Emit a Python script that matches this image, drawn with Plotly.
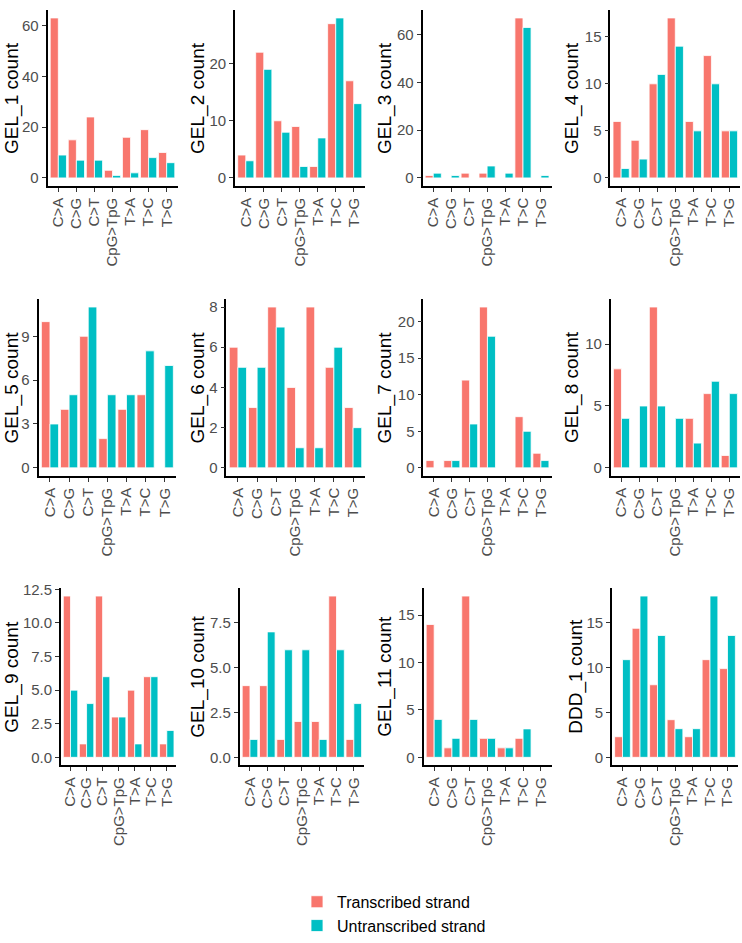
import plotly.graph_objects as go

categories = ["C>A", "C>G", "C>T", "CpG>TpG", "T>A", "T>C", "T>G"]
sample_names = ["GEL_1", "GEL_2", "GEL_3", "GEL_4", "GEL_5", "GEL_6",
                "GEL_7", "GEL_8", "GEL_9", "GEL_10", "GEL_11", "DDD_1"]

gel1_tr = [63, 15, 24, 3, 16, 19, 10]
gel1_un = [9, 7, 7, 1, 2, 8, 6]
gel2_tr = [4, 22, 10, 9, 2, 27, 17]
gel2_un = [3, 19, 8, 2, 7, 28, 13]
gel3_tr = [1, 0, 2, 2, 0, 67, 0]
gel3_un = [2, 1, 0, 5, 2, 63, 1]
gel4_tr = [6, 4, 10, 17, 6, 13, 5]
gel4_un = [1, 2, 11, 14, 5, 10, 5]
gel5_tr = [10, 4, 9, 2, 4, 5, 0]
gel5_un = [3, 5, 11, 5, 5, 8, 7]
gel6_tr = [6, 3, 8, 4, 8, 5, 3]
gel6_un = [5, 5, 7, 1, 1, 6, 2]
gel7_tr = [1, 1, 12, 22, 0, 7, 2]
gel7_un = [0, 1, 6, 18, 0, 5, 1]
gel8_tr = [8, 0, 13, 0, 4, 6, 1]
gel8_un = [4, 5, 5, 4, 2, 7, 6]
gel9_tr = [12, 1, 12, 3, 5, 6, 1]
gel9_un = [5, 4, 6, 3, 1, 6, 2]
gel10_tr = [4, 4, 1, 2, 2, 9, 1]
gel10_un = [1, 7, 6, 6, 1, 6, 3]
gel11_tr = [14, 1, 17, 2, 1, 2, 0]
gel11_un = [4, 2, 4, 2, 1, 3, 0]
ddd1_tr = [2.3, 14.4, 8.1, 4.2, 2.3, 10.9, 9.9]
ddd1_un = [10.9, 18.0, 13.6, 3.2, 3.2, 18.0, 13.6]

y_tick_steps = [20, 10, 20, 5, 3, 2, 5, 5, 2.5, 2.5, 5, 5]

transcribed = [gel1_tr, gel2_tr, gel3_tr, gel4_tr, gel5_tr, gel6_tr,
               gel7_tr, gel8_tr, gel9_tr, gel10_tr, gel11_tr, ddd1_tr]
untranscribed = [gel1_un, gel2_un, gel3_un, gel4_un, gel5_un, gel6_un,
                 gel7_un, gel8_un, gel9_un, gel10_un, gel11_un, ddd1_un]

W, H = 742, 943
RED = "#F8766D"
TEAL = "#00BFC4"
FONT = "Liberation Sans, Arial, sans-serif"

# panel geometry in pixels (left, right), rows (top, bottom)
x_px = [(47.5, 177.5), (235, 364.5), (422.5, 551.7), (610.3, 740.3),
        (38.5, 176.2), (226.4, 364.6), (423.3, 551.6), (610.7, 740.1),
        (60.9, 176.4), (239.6, 364.2), (423.5, 551.5), (612, 738)]
row_px = [(3, 182), (297, 477), (591, 771.5)]
title_x_px = [12, 198, 385, 572, 12, 198, 385, 572.5, 12, 198, 385, 576]

fig = go.Figure()
annotations = []
for i, name in enumerate(sample_names):
    k = i + 1
    xa = "x" if k == 1 else f"x{k}"
    ya = "y" if k == 1 else f"y{k}"
    fig.add_trace(go.Bar(x=categories, y=transcribed[i], name="Transcribed strand",
                         marker=dict(color=RED, line=dict(color="white", width=0.8)),
                         xaxis=xa, yaxis=ya, showlegend=(i == 0), legendgroup="tr"))
    fig.add_trace(go.Bar(x=categories, y=untranscribed[i], name="Untranscribed strand",
                         marker=dict(color=TEAL, line=dict(color="white", width=0.8)),
                         xaxis=xa, yaxis=ya, showlegend=(i == 0), legendgroup="un"))
    l, r = x_px[i]
    t, b = row_px[i // 4]
    m = max(max(transcribed[i]), max(untranscribed[i]))
    step = y_tick_steps[i]
    xkey = "xaxis" if k == 1 else f"xaxis{k}"
    ykey = "yaxis" if k == 1 else f"yaxis{k}"
    fig.layout[xkey] = dict(
        domain=[l / W, r / W], anchor=ya, type="category",
        range=[-0.6, len(categories) - 0.4],
        tickmode="array", tickvals=categories, ticktext=categories,
        ticklabeloverflow="allow",
        tickangle=-90, ticks="outside", ticklen=4, tickwidth=1.2, tickcolor="#333333",
        showline=True, linecolor="black", linewidth=1.6, showgrid=False, zeroline=False,
        tickfont=dict(family=FONT, size=15, color="#4D4D4D"), fixedrange=True,
    )
    fig.layout[ykey] = dict(
        domain=[1 - b / H, 1 - t / H], anchor=xa,
        range=[-0.05 * m, 1.05 * m], tick0=0, dtick=step,
        tickformat=".1f" if step != int(step) else "d",
        ticklabeloverflow="allow",
        ticks="outside", ticklen=4, tickwidth=1.2, tickcolor="#333333",
        showline=True, linecolor="black", linewidth=1.6, showgrid=False, zeroline=False,
        tickfont=dict(family=FONT, size=15, color="#4D4D4D"), fixedrange=True,
    )
    annotations.append(dict(
        text=f"{name} count", textangle=-90, showarrow=False,
        xref="paper", yref="paper", x=title_x_px[i] / W, y=1 - (t + b) / 2 / H,
        xanchor="center", yanchor="middle",
        font=dict(family=FONT, size=19, color="black"),
    ))

fig.update_layout(
    width=W, height=H, margin=dict(l=0, r=0, t=0, b=0),
    paper_bgcolor="white", plot_bgcolor="white",
    barmode="group", bargap=0.1, bargroupgap=0,
    annotations=annotations,
    legend=dict(x=297 / W, y=1 - 893 / H, xanchor="left", yanchor="top",
                orientation="v", font=dict(family=FONT, size=16, color="black"),
                tracegroupgap=0, itemwidth=30),
    font=dict(family=FONT),
)

fig.write_html(
    "out.html",
    config={"displayModeBar": False},
    post_script="document.body.style.margin='0';document.body.style.overflow='hidden';",
)
